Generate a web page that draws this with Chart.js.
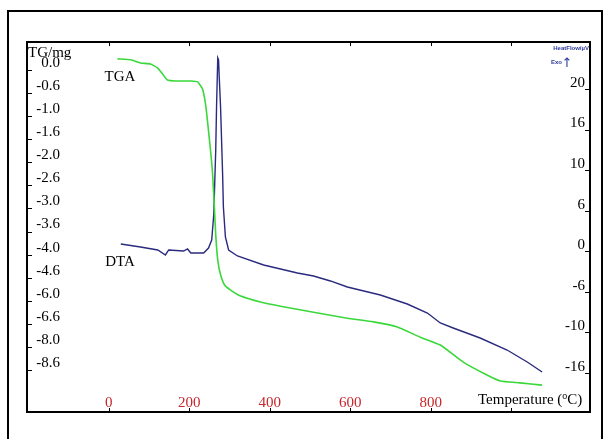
<!DOCTYPE html>
<html>
<head>
<meta charset="utf-8">
<script src="https://cdn.jsdelivr.net/npm/chart.js@4.4.1/dist/chart.umd.min.js"></script>
<style>
html,body{margin:0;padding:0;background:#fff;}
canvas{display:block;}
</style>
</head>
<body>
<canvas id="c" width="608" height="439"></canvas>
<script>
// ---- data ----
const tgaTemps = [22, 55, 79, 104, 122, 134, 146, 166, 204, 221, 233, 241, 246, 253, 258, 263, 266, 271, 278, 288, 303, 328, 377, 427, 509, 593, 658, 717, 774, 824, 881, 940, 973, 1022, 1077];
const tgaValues = [0.09, 0.07, 0.00, -0.02, -0.11, -0.24, -0.37, -0.39, -0.39, -0.41, -0.56, -0.91, -1.30, -1.89, -2.38, -3.19, -3.73, -4.27, -4.59, -4.81, -4.92, -5.05, -5.18, -5.27, -5.40, -5.53, -5.61, -5.72, -5.94, -6.11, -6.48, -6.76, -6.89, -6.93, -6.98];

const dtaTemps = [30, 79, 122, 141, 149, 186, 196, 204, 236, 248, 256, 261, 263, 266, 268, 271, 273, 275, 278, 283, 285, 290, 298, 320, 385, 427, 469, 509, 551, 593, 675, 742, 792, 824, 856, 923, 990, 1040, 1077];
const dtaValues = [0.90, 0.53, 0.16, -0.46, 0.16, 0.03, 0.28, -0.21, -0.21, 0.40, 1.39, 4.47, 7.55, 12.48, 17.78, 23.82, 23.57, 21.11, 17.78, 9.65, 5.46, 1.76, 0.16, -0.58, -1.69, -2.18, -2.68, -3.05, -3.66, -4.40, -5.39, -6.50, -7.61, -8.84, -9.46, -10.69, -12.17, -13.65, -14.88];

const tgTickLabels = ['0.0', '-0.6', '-1.0', '-1.6', '-2.0', '-2.6', '-3.0', '-3.6', '-4.0', '-4.6', '-6.0', '-6.6', '-8.0', '-8.6'];
const tgTickValues = [0, -0.5, -1.0, -1.5, -2.0, -2.5, -3.0, -3.5, -4.0, -4.5, -5.0, -5.5, -6.0, -6.5];
const dtaTickLabels = ['20', '16', '10', '6', '0', '-6', '-10', '-16'];
const dtaTickValues = [20, 15, 10, 5, 0, -5, -10, -15];
const xTickLabels = ['0', '200', '400', '600', '800'];
const xTickValues = [0, 200, 400, 600, 800];
const xTickMarks = [0, 200, 400, 600, 800, 1000];

const SERIF = '"Liberation Serif", "Times New Roman", serif';

const decor = {
  id: 'decor',
  beforeDraw(chart) {
    const ctx = chart.ctx;
    ctx.save();
    ctx.fillStyle = '#fff';
    ctx.fillRect(0, 0, chart.width, chart.height);
    ctx.restore();
  },
  afterDraw(chart) {
    const ctx = chart.ctx;
    const a = chart.chartArea;
    const sx = chart.scales.x, sTG = chart.scales.yTG, sD = chart.scales.yDTA;
    ctx.save();
    // outer frame (bottom edge cut off by the picture)
    ctx.strokeStyle = '#000';
    ctx.lineWidth = 2;
    ctx.beginPath();
    ctx.moveTo(8, 439); ctx.lineTo(8, 11); ctx.lineTo(602, 11); ctx.lineTo(602, 439);
    ctx.stroke();
    // inner plot box
    ctx.strokeRect(a.left, a.top, a.right - a.left, a.bottom - a.top);
    // x tick marks top & bottom
    ctx.lineWidth = 1;
    ctx.beginPath();
    xTickMarks.forEach(v => {
      const px = Math.round(sx.getPixelForValue(v)) + 0.5;
      ctx.moveTo(px, a.top); ctx.lineTo(px, a.top + 4);
      ctx.moveTo(px, a.bottom); ctx.lineTo(px, a.bottom - 4);
    });
    ctx.stroke();
    // x tick labels (red, inside)
    ctx.fillStyle = '#c8262b';
    ctx.font = '15px ' + SERIF;
    ctx.textAlign = 'center';
    ctx.textBaseline = 'middle';
    xTickValues.forEach((v, i) => {
      ctx.fillText(xTickLabels[i], sx.getPixelForValue(v), a.bottom - 9);
    });
    // axis title
    ctx.fillStyle = '#000';
    ctx.textAlign = 'left';
    const t1 = 'Temperature (';
    let tx = 478;
    ctx.fillText(t1, tx, a.bottom - 12);
    tx += ctx.measureText(t1).width;
    ctx.font = '10px ' + SERIF;
    ctx.fillText('o', tx, a.bottom - 16);
    tx += ctx.measureText('o').width;
    ctx.font = '15px ' + SERIF;
    ctx.fillText('C)', tx, a.bottom - 12);

    // left TG axis
    ctx.textAlign = 'right';
    ctx.fillStyle = '#000';
    ctx.beginPath();
    tgTickValues.forEach((v, i) => {
      const py = sTG.getPixelForValue(v);
      ctx.fillText(tgTickLabels[i], 60, py);
      ctx.moveTo(a.left, Math.round(py + 7) + 0.5);
      ctx.lineTo(a.left + 5, Math.round(py + 7) + 0.5);
    });
    ctx.stroke();
    ctx.textAlign = 'left';
    ctx.fillText('TG/mg', 28, 53);

    // right DTA axis
    ctx.textAlign = 'right';
    ctx.beginPath();
    dtaTickValues.forEach((v, i) => {
      const py = sD.getPixelForValue(v);
      ctx.fillText(dtaTickLabels[i], 585, py - 6);
      ctx.moveTo(a.right - 5, Math.round(py) + 0.5);
      ctx.lineTo(a.right, Math.round(py) + 0.5);
    });
    ctx.stroke();

    // series labels
    ctx.textAlign = 'center';
    ctx.fillText('TGA', 120, 77);
    ctx.fillText('DTA', 120, 262);

    // heat flow annotation
    ctx.fillStyle = '#2a3a9a';
    ctx.font = 'bold 6px "Liberation Sans", Arial, sans-serif';
    ctx.textAlign = 'right';
    ctx.fillText('HeatFlow/µV', 589, 48);
    ctx.fillText('Exo', 562, 62);
    ctx.font = '13px "DejaVu Sans", sans-serif';
    ctx.textAlign = 'center';
    ctx.fillText('↑', 567, 64);
    ctx.restore();
  }
};

new Chart(document.getElementById('c'), {
  type: 'line',
  data: {
    datasets: [
      {
        label: 'TGA',
        data: tgaTemps.map((t, i) => ({ x: t, y: tgaValues[i] })),
        yAxisID: 'yTG',
        borderColor: '#3ad83a',
        borderWidth: 1.6,
        pointRadius: 0,
        tension: 0.15,
        fill: false
      },
      {
        label: 'DTA',
        data: dtaTemps.map((t, i) => ({ x: t, y: dtaValues[i] })),
        yAxisID: 'yDTA',
        borderColor: '#2a2a7e',
        borderWidth: 1.4,
        pointRadius: 0,
        tension: 0,
        fill: false
      }
    ]
  },
  options: {
    responsive: false,
    animation: false,
    devicePixelRatio: 1,
    layout: { padding: { left: 27, top: 42, right: 18, bottom: 27 } },
    plugins: { legend: { display: false }, tooltip: { enabled: false } },
    scales: {
      x: { type: 'linear', min: -203, max: 1196, display: false },
      yTG: { type: 'linear', position: 'left', min: -7.562, max: 0.455, display: false },
      yDTA: { type: 'linear', position: 'right', min: -19.81, max: 25.79, display: false }
    }
  },
  plugins: [decor]
});
</script>
</body>
</html>
